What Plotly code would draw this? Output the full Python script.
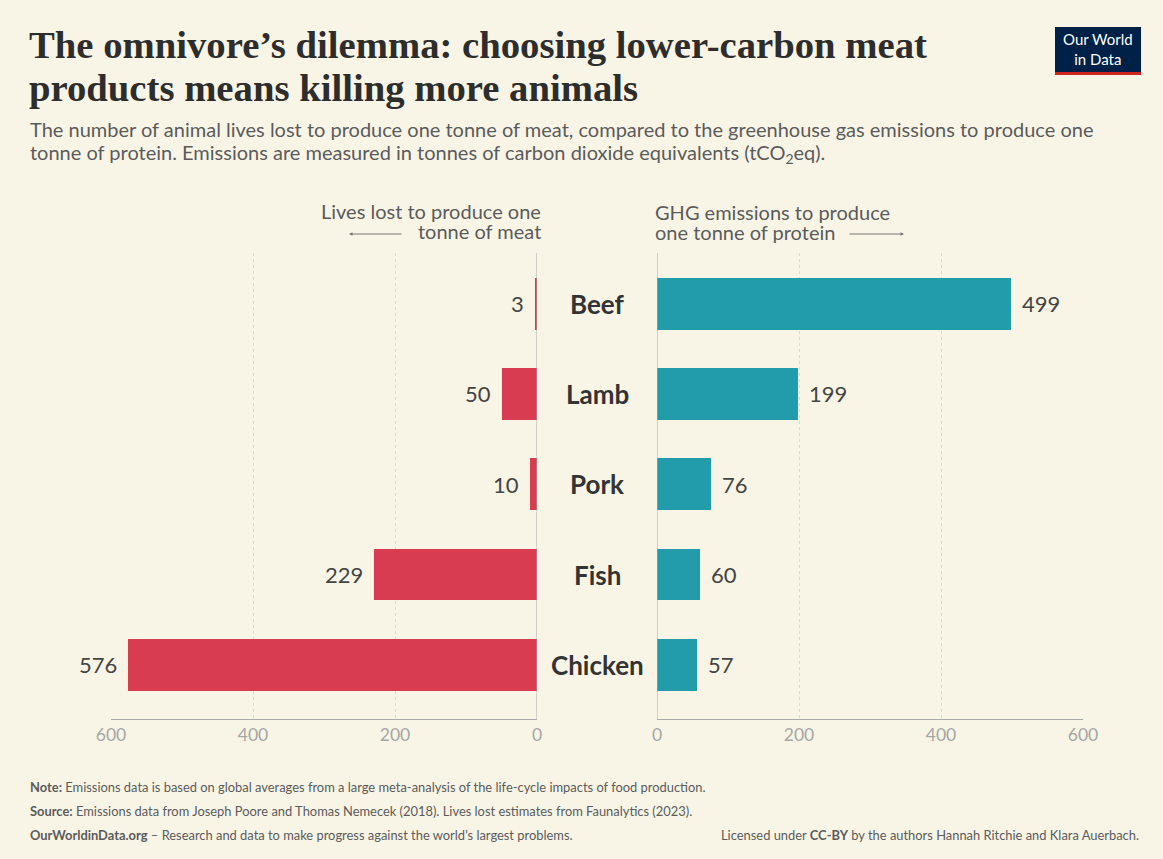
import plotly.graph_objects as go

categories = ["Beef", "Lamb", "Pork", "Fish", "Chicken"]
lives_lost = [3, 50, 10, 229, 576]
ghg_emissions = [499, 199, 76, 60, 57]
tick_values = [0, 200, 400, 600]
tick_labels = ["0", "200", "400", "600"]

W, H = 1163, 859
BG = "#f9f5e6"
RED = "#d73c50"
TEAL = "#229cab"
FONT = "Lato"

def px(x):
    return x / W

def py(y):
    return 1 - y / H

fig = go.Figure()

fig.add_trace(go.Bar(
    x=lives_lost, y=categories, orientation="h", xaxis="x", yaxis="y",
    marker=dict(color=RED, line=dict(width=0)), width=0.575, showlegend=False,
    hoverinfo="skip",
))
fig.add_trace(go.Bar(
    x=ghg_emissions, y=categories, orientation="h", xaxis="x2", yaxis="y",
    marker=dict(color=TEAL, line=dict(width=0)), width=0.575, showlegend=False,
    hoverinfo="skip",
))

axis_common = dict(
    tickvals=tick_values, ticktext=tick_labels,
    showgrid=True, gridcolor="#dcdad0", griddash="dot", gridwidth=1,
    zeroline=False, showline=True, linecolor="#a9a9a9", linewidth=1,
    ticks="", ticklen=0,
    tickfont=dict(family=FONT, size=17.5, color="#a6a6a6"),
    fixedrange=True, automargin=False,
)

fig.update_layout(
    template="none",
    width=W, height=H,
    margin=dict(l=0, r=0, t=0, b=0, pad=0, autoexpand=False),
    paper_bgcolor=BG, plot_bgcolor=BG,
    bargap=0,
    xaxis=dict(domain=[px(111), px(537)], range=[600, 0], anchor="y", **axis_common),
    xaxis2=dict(domain=[px(657), px(1083)], range=[0, 600], anchor="y", **axis_common),
    yaxis=dict(domain=[py(719), py(253)], range=[4.6, -0.56], showticklabels=False,
               showgrid=False, zeroline=False, showline=False, fixedrange=True,
               automargin=False, ticks="",
               type="category", categoryorder="array", categoryarray=categories),
    font=dict(family=FONT, color="#555555"),
)

shapes = []
for xr in ["x", "x2"]:
    shapes.append(dict(type="line", xref=xr, yref="paper", x0=0, x1=0,
                       y0=py(719), y1=py(253), line=dict(color="#a9a9a9", width=1), layer="above"))
# logo box
shapes.append(dict(type="rect", xref="paper", yref="paper", x0=px(1055), x1=px(1141),
                   y0=py(72), y1=py(27), fillcolor="#002147", line=dict(width=0)))
shapes.append(dict(type="rect", xref="paper", yref="paper", x0=px(1055), x1=px(1141),
                   y0=py(75), y1=py(72), fillcolor="#ce261e", line=dict(width=0)))
fig.update_layout(shapes=shapes)

ann = []
# category labels
for c in categories:
    ann.append(dict(x=px(597), xref="paper", y=c, yref="y", text=f"<b>{c}</b>",
                    showarrow=False, xanchor="center", yanchor="middle",
                    font=dict(family=FONT, size=26, color="#333333")))
# value labels
for c, v in zip(categories, lives_lost):
    ann.append(dict(x=v, xref="x", y=c, yref="y", text=str(v), showarrow=False,
                    xanchor="right", yanchor="middle", xshift=-9,
                    font=dict(family=FONT, size=22, color="#444444")))
for c, v in zip(categories, ghg_emissions):
    ann.append(dict(x=v, xref="x2", y=c, yref="y", text=str(v), showarrow=False,
                    xanchor="left", yanchor="middle", xshift=9,
                    font=dict(family=FONT, size=22, color="#444444")))

# headers
hdr_font = dict(family=FONT, size=20, color="#5b5b5b")
ann.append(dict(x=px(543), y=py(211), xref="paper", yref="paper", text="Lives lost to produce one",
                showarrow=False, xanchor="right", yanchor="middle", font=hdr_font))
ann.append(dict(x=px(543), y=py(231), xref="paper", yref="paper", text="tonne of meat",
                showarrow=False, xanchor="right", yanchor="middle", font=hdr_font))
ann.append(dict(x=px(653), y=py(212), xref="paper", yref="paper", text="GHG emissions to produce",
                showarrow=False, xanchor="left", yanchor="middle", font=hdr_font))
ann.append(dict(x=px(653), y=py(232), xref="paper", yref="paper", text="one tonne of protein",
                showarrow=False, xanchor="left", yanchor="middle", font=hdr_font))
# arrows
ann.append(dict(x=px(349), y=py(234), xref="paper", yref="paper", ax=54, ay=0,
                axref="pixel", ayref="pixel", text="", showarrow=True, arrowhead=2,
                arrowsize=0.7, arrowwidth=1, arrowcolor="#777777"))
ann.append(dict(x=px(904), y=py(234), xref="paper", yref="paper", ax=-56, ay=0,
                axref="pixel", ayref="pixel", text="", showarrow=True, arrowhead=2,
                arrowsize=0.7, arrowwidth=1, arrowcolor="#777777"))

# title
title_font = dict(family="Liberation Serif", size=38.7, color="#2d2d2d")
ann.append(dict(x=px(27), y=py(45), xref="paper", yref="paper",
                text="<b>The omnivore’s dilemma: choosing lower-carbon meat</b>",
                showarrow=False, xanchor="left", yanchor="middle", font=title_font))
ann.append(dict(x=px(27), y=py(88), xref="paper", yref="paper",
                text="<b>products means killing more animals</b>",
                showarrow=False, xanchor="left", yanchor="middle", font=title_font))
# subtitle
sub_font = dict(family=FONT, size=20, color="#5b5b5b")
ann.append(dict(x=px(28), y=py(129), xref="paper", yref="paper",
                text="The number of animal lives lost to produce one tonne of meat, compared to the greenhouse gas emissions to produce one",
                showarrow=False, xanchor="left", yanchor="middle", font=sub_font))
ann.append(dict(x=px(28), y=py(153), xref="paper", yref="paper",
                text="tonne of protein. Emissions are measured in tonnes of carbon dioxide equivalents (tCO<sub>2</sub>eq).",
                showarrow=False, xanchor="left", yanchor="middle", font=sub_font))
# logo text
ann.append(dict(x=px(1098), y=py(49.5), xref="paper", yref="paper",
                text="Our World<br>in Data", showarrow=False, xanchor="center", yanchor="middle",
                font=dict(family=FONT, size=15, color="#ffffff")))
# footer
foot_font = dict(family=FONT, size=12.9, color="#5b5b5b")
ann.append(dict(x=px(28), y=py(787), xref="paper", yref="paper",
                text="<b>Note:</b> Emissions data is based on global averages from a large meta-analysis of the life-cycle impacts of food production.",
                showarrow=False, xanchor="left", yanchor="middle", font=foot_font))
ann.append(dict(x=px(28), y=py(811), xref="paper", yref="paper",
                text="<b>Source:</b> Emissions data from Joseph Poore and Thomas Nemecek (2018). Lives lost estimates from Faunalytics (2023).",
                showarrow=False, xanchor="left", yanchor="middle", font=foot_font))
ann.append(dict(x=px(28), y=py(835), xref="paper", yref="paper",
                text="<b>OurWorldinData.org</b> – Research and data to make progress against the world’s largest problems.",
                showarrow=False, xanchor="left", yanchor="middle", font=foot_font))
ann.append(dict(x=px(1141), y=py(835), xref="paper", yref="paper",
                text="Licensed under <b>CC-BY</b> by the authors Hannah Ritchie and Klara Auerbach.",
                showarrow=False, xanchor="right", yanchor="middle", font=foot_font))

fig.update_layout(annotations=ann)
fig.write_html("out.html", config={"displayModeBar": False},
               post_script="document.body.style.margin='0';")
